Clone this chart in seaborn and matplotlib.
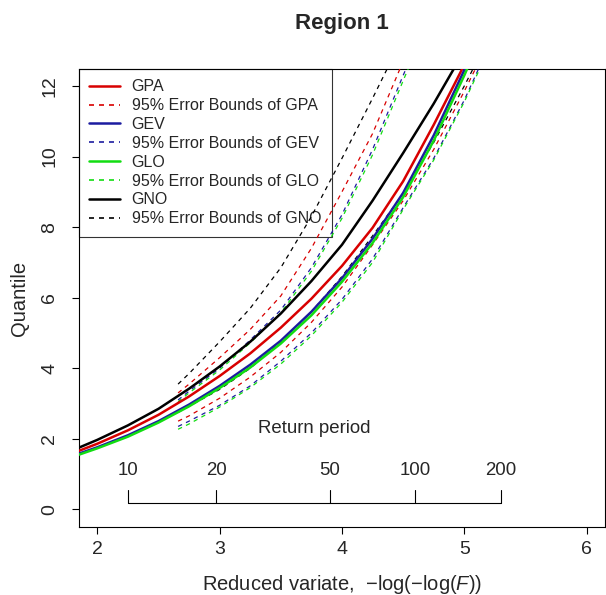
import numpy as np
import pandas as pd
import seaborn as sns
import matplotlib.pyplot as plt
from matplotlib.lines import Line2D

# --- data ---
x_fit = [1.85, 2.0, 2.25, 2.5, 2.75, 3.0, 3.25, 3.5, 3.75, 4.0, 4.25, 4.5, 4.75, 5.0, 5.25]
gpa = [1.66, 1.86, 2.24, 2.68, 3.2, 3.78, 4.42, 5.15, 5.97, 6.9, 7.98, 9.3, 10.9, 12.6, 14.5]
gev = [1.58, 1.76, 2.1, 2.5, 2.97, 3.5, 4.1, 4.78, 5.6, 6.55, 7.67, 8.97, 10.6, 12.45, 14.4]
glo = [1.55, 1.73, 2.06, 2.46, 2.92, 3.44, 4.02, 4.7, 5.5, 6.45, 7.55, 8.85, 10.45, 12.3, 14.3]
gno = [1.75, 1.97, 2.38, 2.85, 3.42, 4.05, 4.75, 5.55, 6.47, 7.5, 8.75, 10.1, 11.5, 13.0, 14.8]

# 95% error bounds
x_ci = [2.66, 2.75, 3.0, 3.25, 3.5, 3.75, 4.0, 4.25, 4.5, 4.75, 5.0, 5.25]
gpa_hi = [3.3, 3.55, 4.3, 5.1, 6.05, 7.4, 9.0, 10.65, 12.7, 14.5, 16.3, 18.0]
gev_hi = [3.1, 3.35, 4.0, 4.8, 5.65, 6.85, 8.35, 10.2, 12.3, 14.3, 16.2, 18.0]
glo_hi = [3.05, 3.3, 3.95, 4.72, 5.57, 6.75, 8.25, 10.05, 12.15, 14.2, 16.1, 18.0]
gno_hi = [3.55, 3.85, 4.75, 5.7, 6.85, 8.3, 9.95, 11.65, 13.4, 15.3, 17.2, 19.1]
gpa_lo = [2.5, 2.65, 3.15, 3.75, 4.45, 5.3, 6.3, 7.5, 8.75, 10.2, 11.85, 13.6]
gev_lo = [2.35, 2.5, 2.95, 3.5, 4.2, 5.0, 5.95, 7.1, 8.55, 9.95, 11.6, 13.5]
glo_lo = [2.27, 2.42, 2.9, 3.45, 4.12, 4.92, 5.87, 7.0, 8.5, 9.9, 11.55, 13.4]
gno_lo = [2.75, 2.92, 3.4, 4.0, 4.75, 5.6, 6.6, 7.75, 8.95, 10.4, 12.0, 13.7]

return_periods = [10, 20, 50, 100, 200]

dist_names = ["GPA", "GEV", "GLO", "GNO"]
dist_colors = ["#d80000", "#1c1ca0", "#12dd12", "black"]

sns.set_theme(style="ticks")
plt.rcParams['font.family'] = ['Liberation Sans', 'DejaVu Sans']
plt.rcParams['mathtext.fontset'] = 'custom'
plt.rcParams['mathtext.rm'] = 'Liberation Sans'
plt.rcParams['mathtext.it'] = 'Liberation Sans:italic'

fig, ax = plt.subplots(figsize=(6.06, 5.95), dpi=100)
fig.subplots_adjust(left=79/606, right=605/606, bottom=1-527/595, top=1-69/595)

fits = [gpa, gev, glo, gno]
his = [gpa_hi, gev_hi, glo_hi, gno_hi]
los = [gpa_lo, gev_lo, glo_lo, gno_lo]
dash = (0, (3.5, 3.5))

for hi, lo, col in zip(his, los, dist_colors):
    sns.lineplot(x=x_ci, y=hi, color=col, lw=0.9, linestyle=dash, ax=ax, sort=False, estimator=None, zorder=3)
    sns.lineplot(x=x_ci, y=lo, color=col, lw=0.9, linestyle=dash, ax=ax, sort=False, estimator=None, zorder=3)
for fit, col in zip(fits, dist_colors):
    sns.lineplot(x=x_fit, y=fit, color=col, lw=1.8, ax=ax, sort=False, estimator=None, zorder=4)

ax.set_xlim(1.85, 6.15)
ax.set_ylim(-0.5, 12.48)
ax.set_xticks([2, 3, 4, 5, 6])
ax.set_yticks([0, 2, 4, 6, 8, 10, 12])
for s in ax.spines.values():
    s.set_color("black")
    s.set_linewidth(0.8)
ax.tick_params(axis="both", direction="out", length=5, width=0.8, color="black", labelsize=14)
ax.tick_params(axis="x", pad=5)
ax.tick_params(axis="y", pad=10)
for lab in ax.get_yticklabels():
    lab.set_rotation(90)
    lab.set_va("center")

# return period axis
rp_x = [-np.log(-np.log(1 - 1 / t)) for t in return_periods]
ax.plot([rp_x[0], rp_x[-1]], [0.18, 0.18], color="black", lw=0.8)
for t, xv in zip(return_periods, rp_x):
    ax.plot([xv, xv], [0.18, 0.54], color="black", lw=0.8)
    ax.text(xv, 1.1, str(t), ha="center", va="center", fontsize=13.4)
ax.text((rp_x[0] + rp_x[-1]) / 2, 2.3, "Return period", ha="center", va="center", fontsize=13.4)

ax.set_xlabel("Reduced variate,  $-\\log(-\\log(F))$", fontsize=14.5, labelpad=11)
ax.set_ylabel("Quantile", fontsize=14.5, labelpad=9)
ax.set_title("Region 1", fontsize=16, fontweight="bold", pad=29)

handles = []
labels = []
for name, col in zip(dist_names, dist_colors):
    handles.append(Line2D([], [], color=col, lw=1.8))
    labels.append(name)
    handles.append(Line2D([], [], color=col, lw=1.2, linestyle=(0, (3, 3))))
    labels.append("95% Error Bounds of " + name)
leg = ax.legend(handles, labels, loc="upper left", borderaxespad=0, fontsize=11.5,
                frameon=True, fancybox=False, edgecolor="black",
                handlelength=1.9, handletextpad=0.75, labelspacing=0.24, borderpad=0.65)
leg.get_frame().set_facecolor("none")
leg.get_frame().set_linewidth(0.8)
leg.set_zorder(1)

plt.savefig("out.png", dpi=100)
